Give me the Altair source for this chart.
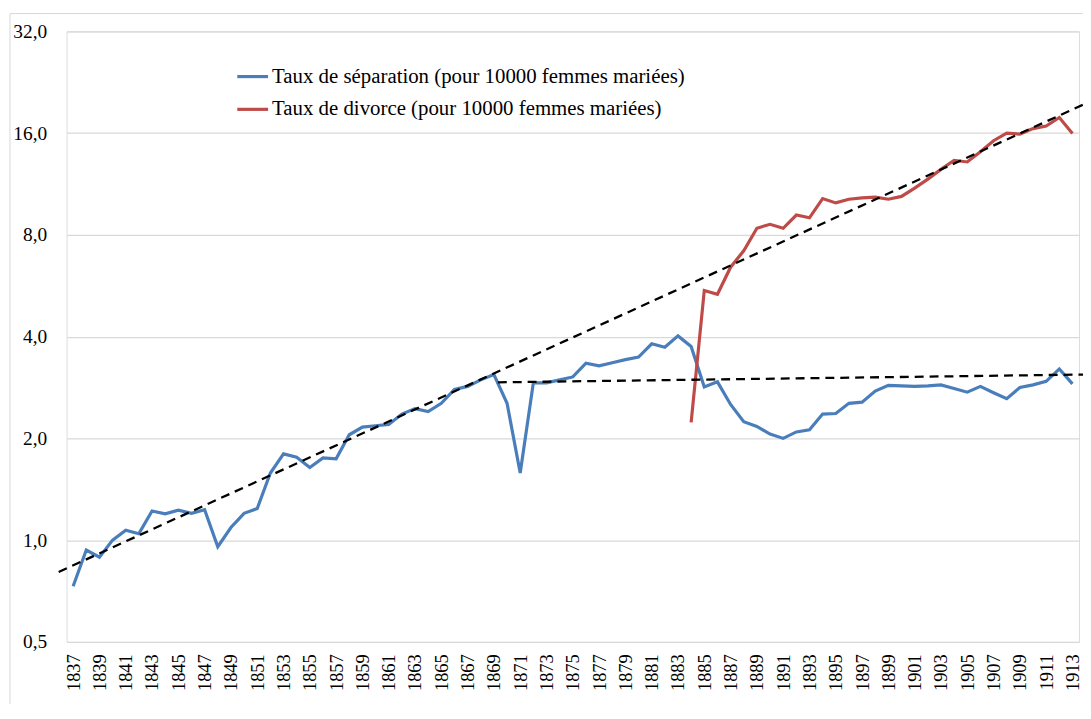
import altair as alt
import pandas as pd

years = list(range(1837, 1914))
separation = [
    0.73, 0.935, 0.89, 1.0, 1.07, 1.045, 1.22, 1.196, 1.226, 1.2,
    1.23, 0.956, 1.09, 1.2, 1.24, 1.58, 1.80, 1.76, 1.64, 1.75,
    1.74, 2.05, 2.16, 2.18, 2.2, 2.36, 2.45, 2.4, 2.54, 2.79,
    2.85, 2.98, 3.09, 2.54, 1.58, 2.92, 2.92, 2.98, 3.04, 3.34,
    3.28, 3.35, 3.42, 3.48, 3.81, 3.72, 4.02, 3.74, 2.84, 2.94,
    2.52, 2.24, 2.17, 2.06, 2.0, 2.09, 2.12, 2.36, 2.37, 2.54,
    2.56, 2.76, 2.87, 2.86, 2.85, 2.86, 2.88, 2.81, 2.74, 2.85,
    2.73, 2.62, 2.83, 2.88, 2.95, 3.21, 2.90,
]
divorce_years = list(range(1884, 1914))
divorce = [
    2.23, 5.48, 5.34, 6.42, 7.18, 8.37, 8.6, 8.37, 9.16, 8.99,
    10.25, 9.95, 10.2, 10.3, 10.35, 10.2, 10.4, 11.0, 11.7, 12.5,
    13.3, 13.15, 14.1, 15.2, 16.0, 15.9, 16.5, 16.8, 17.8, 15.95,
]

# dashed trend lines (end points)
trend_group = ["a", "a", "b", "b"]
trend_years = [1835.9, 1913.9, 1869.3, 1913.9]
trend_values = [0.805, 19.5, 2.93, 3.09]

sep_name = "Taux de séparation (pour 10000 femmes mariées)"
div_name = "Taux de divorce (pour 10000 femmes mariées)"
series_names = [sep_name, div_name]
series_colors = ["#4A7EBB", "#BE4B48"]

y_ticks = [0.5, 1, 2, 4, 8, 16, 32]
x_ticks = list(range(1837, 1914, 2))

df = pd.concat([
    pd.DataFrame({"year": years, "value": separation, "serie": sep_name}),
    pd.DataFrame({"year": divorce_years, "value": divorce, "serie": div_name}),
])
trend_df = pd.DataFrame({"year": trend_years, "value": trend_values, "g": trend_group})

FONT = "Times New Roman, Liberation Serif, serif"
W, H = 1020, 615

x_enc = alt.X(
    "year:Q",
    scale=alt.Scale(domain=[1836.5, 1913.5], nice=False, zero=False),
    axis=alt.Axis(
        values=x_ticks, format="d", labelAngle=270, labelAlign="right",
        labelBaseline="middle", labelPadding=12, ticks=False, domain=False,
        grid=False, title=None, labelFont=FONT, labelFontSize=18.5,
        labelColor="#000000", labelOverlap=False, labelFlush=False,
        labelBound=False, labelSeparation=0,
    ),
)
y_enc = alt.Y(
    "value:Q",
    scale=alt.Scale(type="log", base=2, domain=[0.5, 32], nice=False),
    axis=alt.Axis(
        values=y_ticks, labelExpr="replace(format(datum.value, '.1f'), '.', ',')",
        ticks=False, domain=False, grid=True, gridColor="#D9D9D9", gridWidth=1.3,
        title=None, labelFont=FONT, labelFontSize=19.5, labelColor="#000000",
        labelPadding=20,
    ),
)

border = alt.Chart(pd.DataFrame({"k": [0]})).mark_rect(
    fill=None, stroke="#D9D9D9", strokeWidth=1
).encode(
    x=alt.value(-57), y=alt.value(-18), x2=alt.value(W + 40), y2=alt.value(H + 200)
)

lines = alt.Chart(df).mark_line(strokeWidth=3.2).encode(
    x=x_enc,
    y=y_enc,
    color=alt.Color(
        "serie:N",
        scale=alt.Scale(domain=series_names, range=series_colors),
        sort=series_names,
        legend=alt.Legend(
            orient="none", legendX=170, legendY=28, title=None,
            symbolType="stroke", symbolSize=961, symbolStrokeWidth=3.2,
            labelFont=FONT, labelFontSize=21, labelColor="#000000",
            labelOffset=2, rowPadding=5, padding=0, labelLimit=700,
        ),
    ),
)

trends = alt.Chart(trend_df).mark_line(
    color="#000000", strokeWidth=2.3, strokeDash=[9, 6], clip=False
).encode(x=x_enc, y=y_enc, detail="g:N")

chart = alt.layer(border, lines, trends).properties(
    width=W, height=H,
    autosize=alt.AutoSizeParams(type="none"),
    padding={"left": 59, "top": 21, "right": 4, "bottom": 60},
).configure_view(stroke=None).configure_axis(labelOverlap=False).configure(
    background="#FFFFFF"
)

chart.save("out.html", embed_options={"renderer": "svg", "actions": False})
